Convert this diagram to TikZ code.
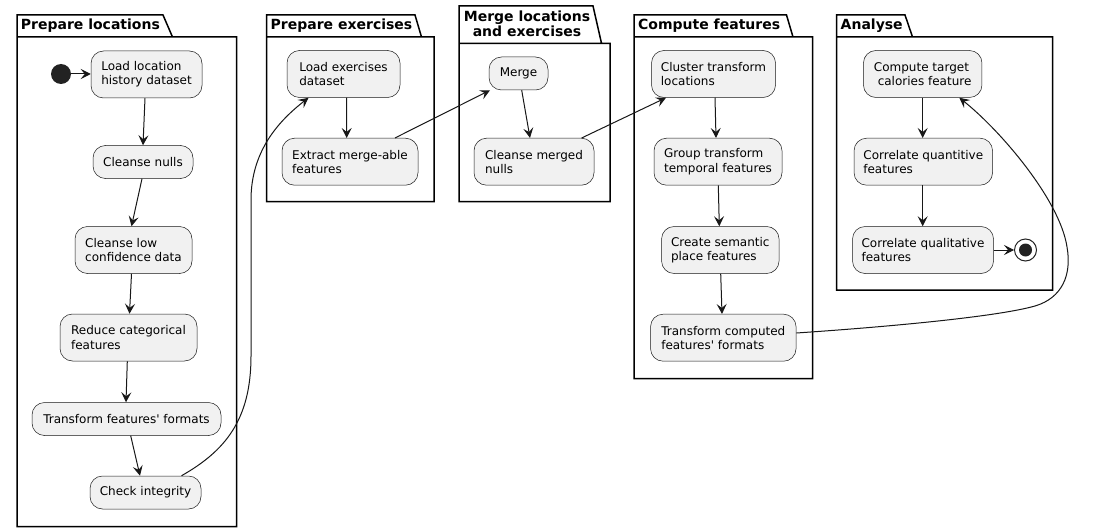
\documentclass[tikz,border=0pt]{standalone}
\usepackage{fontspec}
\setmainfont{DejaVu Sans}[Ligatures=TeXOff]
\usetikzlibrary{arrows.meta,calc}
\definecolor{boxfill}{HTML}{F1F1F1}
\definecolor{lineclr}{HTML}{181818}
\definecolor{dotclr}{HTML}{222222}
\tikzset{
  act/.style={draw=lineclr, line width=0.5pt, fill=boxfill, rounded corners=12.5pt,
    align=left, font=\fontsize{12}{14.3}\selectfont, inner sep=0pt},
  arr/.style={draw=lineclr, line width=1pt, -{Stealth[length=10pt,width=10pt,inset=4pt]}},
  pkg/.style={draw=black, line width=1.5pt, line join=miter},
  pkgtitle/.style={font=\bfseries\fontsize{14}{15}\selectfont, inner sep=0pt},
}
\begin{document}
\begin{tikzpicture}[x=1pt,y=-1pt]
\useasboundingbox (0,0) rectangle (1100,532);
\fill[white] (0,0) rectangle (1100,532);

% ---------- packages ----------
\draw[pkg] (17,526.5) -- (17,15) -- (163,15) -- (172.5,37) -- (236.5,37) -- (236.5,526.5) -- cycle (17,37) -- (172.5,37);
\node[pkgtitle, anchor=base west] (t1) at (20.7,30) {Prepare locations};

\draw[pkg] (266.5,201.5) -- (266.5,15) -- (415,15) -- (421.5,37) -- (434,37) -- (434,201.5) -- cycle (266.5,37) -- (421.5,37);
\node[pkgtitle, anchor=base west] (t2) at (270.5,30) {Prepare exercises};

\draw[pkg] (459,201.5) -- (459,6) -- (593,6) -- (601.5,43.3) -- (610,43.3) -- (610,201.5) -- cycle (459,43.3) -- (601.5,43.3);
\node[pkgtitle, anchor=north, align=center] (t3) at (527,10.4) {Merge locations\\and exercises};

\draw[pkg] (634,378.5) -- (634,15) -- (786.5,15) -- (793,37) -- (812.5,37) -- (812.5,378.5) -- cycle (634,37) -- (793,37);
\node[pkgtitle, anchor=base west] (t4) at (638,30) {Compute features};

\draw[pkg] (836.5,290) -- (836.5,15) -- (905,15) -- (912.5,37) -- (1052.5,37) -- (1052.5,290) -- cycle (836.5,37) -- (912.5,37);
\node[pkgtitle, anchor=base west] (t5) at (840.5,30) {Analyse};

% ---------- Prepare locations ----------
\node[circle, fill=dotclr, minimum size=20pt, inner sep=0pt] (start) at (61,74) {};
\node[act, minimum width=111pt, minimum height=47pt] (loadloc) at (146.5,74.5) {Load location\\history dataset};
\node[act, minimum width=100pt, minimum height=33pt] (nulls) at (143,162) {Cleanse nulls};
\node[act, minimum width=117pt, minimum height=47pt] (lowconf) at (133.5,250) {Cleanse low\\confidence data};
\node[act, minimum width=137pt, minimum height=47pt] (reduce) at (128.5,337.5) {Reduce categorical\\features};
\node[act, minimum width=189pt, minimum height=33pt] (tff) at (126.5,419) {Transform features' formats};
\node[act, minimum width=111pt, minimum height=33pt] (check) at (145.5,492.5) {Check integrity};

% ---------- Prepare exercises ----------
\node[act, minimum width=113pt, minimum height=47pt] (loadex) at (343.5,74) {Load exercises\\dataset};
\node[act, minimum width=136pt, minimum height=47pt] (extract) at (350,161.7) {Extract merge-able\\features};

% ---------- Merge ----------
\node[act, minimum width=59pt, minimum height=33pt] (merge) at (518.5,73.5) {Merge};
\node[act, minimum width=120pt, minimum height=47pt] (cmn) at (534,161.7) {Cleanse merged\\nulls};

% ---------- Compute features ----------
\node[act, minimum width=124pt, minimum height=47pt] (cluster) at (713.5,74) {Cluster transform\\locations};
\node[act, minimum width=128pt, minimum height=47pt] (group) at (718,161.7) {Group transform\\temporal features};
\node[act, minimum width=117.5pt, minimum height=47pt] (create) at (720.3,250) {Create semantic\\place features};
\node[act, minimum width=145.5pt, minimum height=47pt] (tcf) at (723.3,337.7) {Transform computed\\features' formats};

% ---------- Analyse ----------
\node[act, minimum width=118.5pt, minimum height=47pt] (target) at (922.7,74) {Compute target\\\ calories feature};
\node[act, minimum width=138.5pt, minimum height=47pt] (quant) at (923.3,161.7) {Correlate quantitive\\features};
\node[act, minimum width=141pt, minimum height=47pt] (qual) at (923,250) {Correlate qualitative\\features};
\node[circle, draw=dotclr, line width=1pt, fill=white, minimum size=22pt, inner sep=0pt] (endc) at (1025.5,250) {};
\fill[dotclr] (endc.center) circle (6.5pt);

% ---------- connectors ----------
\draw[arr] (start) -- (start -| loadloc.west);
\draw[arr] ([xshift=-1.5pt]loadloc.south) -- (nulls.north);
\draw[arr] ([xshift=-1pt]nulls.south) -- ([xshift=-2pt]lowconf.north);
\draw[arr] ([xshift=-2pt]lowconf.south) -- ([xshift=1pt]reduce.north);
\draw[arr] ([xshift=-1.2pt]reduce.south) -- ([xshift=-0.5pt]tff.north);
\draw[arr] ([xshift=4.2pt]tff.south) -- ([xshift=-5.5pt]check.north);
\draw[arr] ([xshift=36pt]check.north) .. controls (225,451) and (251,420) .. (251,356)
  -- (251,200) .. controls (251,150) and (280,120) .. ([xshift=-35pt]loadex.south);

\draw[arr] ([xshift=3pt]loadex.south) -- ([xshift=-3.3pt]extract.north);
\draw[arr] ([xshift=45pt]extract.north) -- ([xshift=-28.5pt]merge.south);

\draw[arr] ([xshift=3.2pt]merge.south) -- ([xshift=-4pt]cmn.north);
\draw[arr] ([xshift=47.7pt]cmn.north) -- ([xshift=-47.5pt]cluster.south);

\draw[arr] ([xshift=1.5pt]cluster.south) -- ([xshift=-2pt]group.north);
\draw[arr] ([xshift=0.3pt]group.south) -- ([xshift=-1pt]create.north);
\draw[arr] ([xshift=0.4pt]create.south) -- ([xshift=-1.3pt]tcf.north);
\draw[arr] ([yshift=4.7pt]tcf.east) .. controls (900,326) and (1000,316) .. (1035,306)
  .. controls (1062,298) and (1072,275) .. (1067,247)
  .. controls (1060,200) and (1000,130) .. ([xshift=36.6pt]target.south);

\draw[arr] (target.south) -- ([xshift=-0.6pt]quant.north);
\draw[arr] ([xshift=-0.6pt]quant.south) -- ([xshift=-0.3pt]qual.north);
\draw[arr] (qual) -- (endc);
\end{tikzpicture}
\end{document}
